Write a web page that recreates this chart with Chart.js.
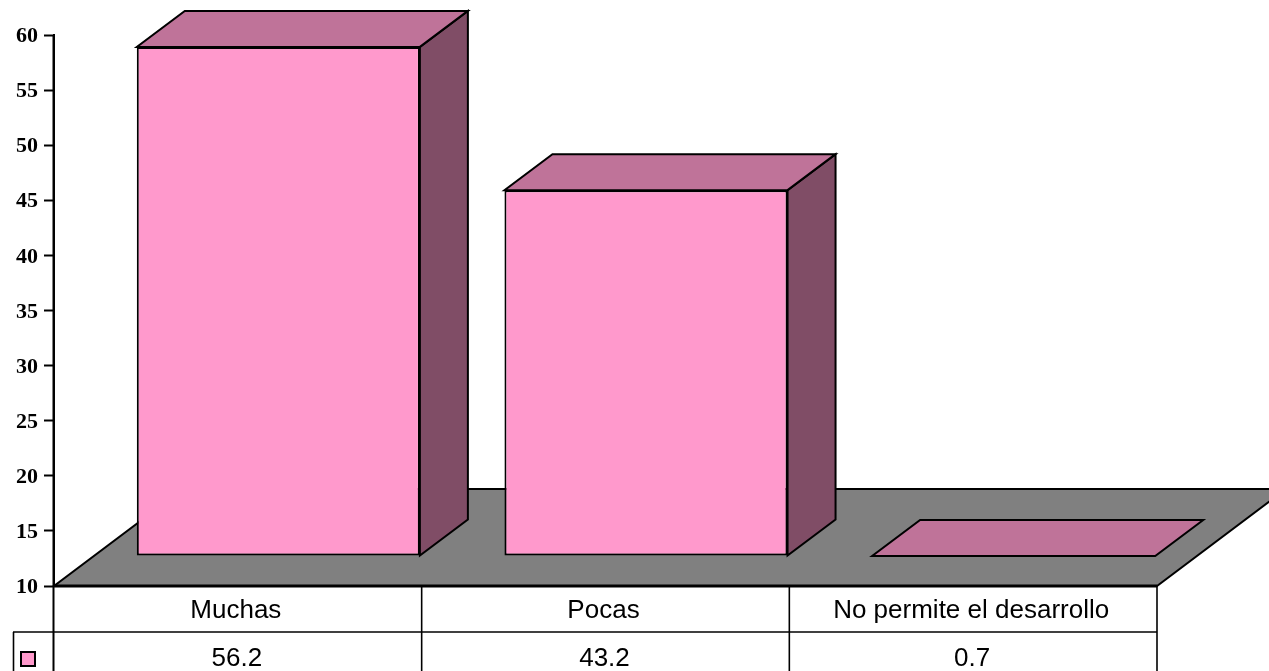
<!DOCTYPE html>
<html>
<head>
<meta charset="utf-8">
<title>Chart</title>
<script src="https://cdn.jsdelivr.net/npm/chart.js@4"></script>
<style>
  html, body { margin: 0; padding: 0; background: #fff; }
  #wrap { width: 1269px; height: 671px; overflow: hidden; }
</style>
</head>
<body>
<div id="wrap"><canvas id="myChart" width="1269" height="671"></canvas></div>
<script>
const categories = ["Muchas", "Pocas", "No permite el desarrollo"];
const values = [56.2, 43.2, 0.7];
const valueLabels = ["56.2", "43.2", "0.7"];
const yMin = 10;
const yMax = 60;
const yStep = 5;

const frontColor = "#FF99CC";
const topColor = "#BF7399";
const sideColor = "#804D66";
const floorColor = "#808080";

// how far the bars stand back from the axis plane, and how deep they are
const shiftX = 40.5;
const shiftY = -30;
const depthX = 48;
const depthY = -36;

function poly(ctx, pts, fill) {
  ctx.beginPath();
  pts.forEach((p, i) => (i ? ctx.lineTo(p[0], p[1]) : ctx.moveTo(p[0], p[1])));
  ctx.closePath();
  ctx.fillStyle = fill;
  ctx.fill();
  ctx.stroke();
}

const bars3d = {
  id: "bars3d",
  beforeDatasetsDraw(chart) {
    const { ctx, chartArea: a } = chart;
    ctx.save();
    ctx.strokeStyle = "#000";
    ctx.lineWidth = 2;
    ctx.lineJoin = "miter";

    // floor, runs off the right edge of the picture like the original
    const fx = 129, fy = -97;
    poly(ctx, [[a.left, a.bottom], [a.right, a.bottom], [a.right + fx, a.bottom + fy], [a.left + fx, a.bottom + fy]], floorColor);

    ctx.translate(shiftX, shiftY);
    chart.getDatasetMeta(0).data.forEach((bar) => {
      const l = bar.x - bar.width / 2;
      const r = bar.x + bar.width / 2;
      if (bar.base - bar.y > 0.5) {
        poly(ctx, [[r, bar.y], [r + depthX, bar.y + depthY], [r + depthX, bar.base + depthY], [r, bar.base]], sideColor);
      }
      poly(ctx, [[l, bar.y], [r, bar.y], [r + depthX, bar.y + depthY], [l + depthX, bar.y + depthY]], topColor);
    });
  },
  afterDatasetsDraw(chart) {
    chart.ctx.restore();
  },
  afterDraw(chart) {
    const { ctx, chartArea: a, height } = chart;
    const x = chart.scales.x;
    const step = x.getPixelForValue(1) - x.getPixelForValue(0);
    const rowY = 632;
    ctx.save();
    ctx.strokeStyle = "#000";

    const line = (x1, y1, x2, y2, w) => {
      ctx.lineWidth = w;
      ctx.beginPath();
      ctx.moveTo(x1, y1);
      ctx.lineTo(x2, y2);
      ctx.stroke();
    };

    line(a.left, a.bottom, a.right, a.bottom, 3);
    line(13, rowY, a.right, rowY, 1.6);
    line(13.5, rowY, 13.5, height, 1.6);
    line(a.left - 0.5, a.top, a.left - 0.5, height, 2);
    categories.forEach((c, i) => {
      const right = x.getPixelForValue(i) + step / 2;
      line(right, a.bottom, right, height, 1.6);
    });

    ctx.font = "26px 'Liberation Sans', Arial, sans-serif";
    ctx.fillStyle = "#000";
    ctx.textAlign = "center";
    ctx.textBaseline = "middle";
    categories.forEach((c, i) => {
      ctx.fillText(c, x.getPixelForValue(i) - 2, 611);
      ctx.fillText(valueLabels[i], x.getPixelForValue(i) - 1, 659);
    });

    // legend key in the first column of the data table
    ctx.fillStyle = frontColor;
    ctx.lineWidth = 2;
    ctx.fillRect(21, 652, 14, 14);
    ctx.strokeRect(21, 652, 14, 14);
    ctx.restore();
  },
};

new Chart(document.getElementById("myChart").getContext("2d"), {
  type: "bar",
  data: {
    labels: categories,
    datasets: [
      {
        label: "Serie",
        // 0.7 is under the axis minimum, so that bar sits flat on the floor
        data: values.map((v) => Math.max(v, yMin)),
        base: yMin,
        backgroundColor: frontColor,
        borderColor: "#000",
        borderWidth: 2,
        borderSkipped: false,
        barPercentage: 0.77,
        categoryPercentage: 1,
        clip: false,
      },
    ],
  },
  options: {
    responsive: false,
    animation: false,
    layout: { padding: { top: 35, right: 112, bottom: 85, left: 0 } },
    plugins: { legend: { display: false }, tooltip: { enabled: false } },
    scales: {
      x: { display: false },
      y: {
        min: yMin,
        max: yMax,
        afterFit(scale) {
          scale.width = 54;
        },
        grid: { drawOnChartArea: false, color: "#000", tickLength: 10, tickWidth: 2 },
        border: { display: true, color: "#000", width: 2 },
        ticks: {
          stepSize: yStep,
          color: "#000",
          padding: 6,
          labelOffset: 1.5,
          font: { family: "'Liberation Serif', 'Times New Roman', serif", size: 22, weight: "bold" },
        },
      },
    },
  },
  plugins: [bars3d],
});
</script>
</body>
</html>
